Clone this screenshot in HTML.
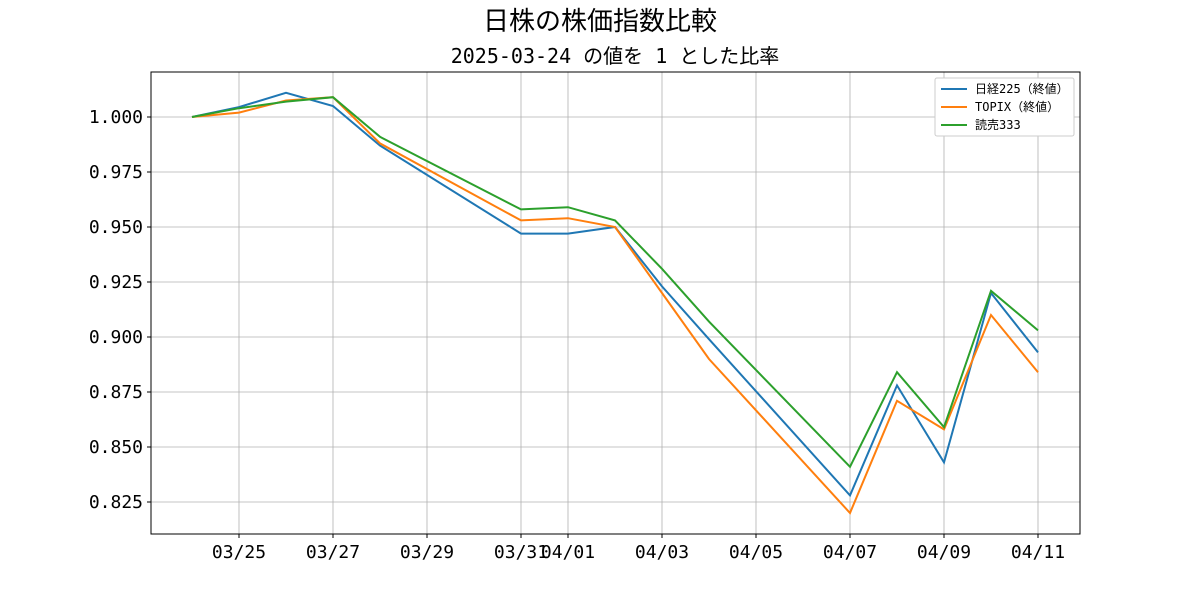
<!DOCTYPE html>
<html><head><meta charset="utf-8"><style>
body{margin:0;background:#fff;}
svg text{font-family:"DejaVu Sans Mono","Liberation Mono","Noto Sans CJK JP",monospace;}
</style></head><body>
<svg id="chart" width="1200" height="600" xmlns="http://www.w3.org/2000/svg">
<rect width="1200" height="600" fill="#fff"/>
<text x="600" y="30" text-anchor="middle" font-size="26" fill="#000">日株の株価指数比較</text>
<text x="615" y="63" text-anchor="middle" font-size="20" fill="#000">2025-03-24 の値を 1 とした比率</text>
<g id="grid"></g><g id="lines"></g><g id="axes"></g>
<rect x="151" y="72" width="929" height="462" fill="none" stroke="#000" stroke-width="1"/>
<g>
<rect x="935" y="78" width="139" height="58" fill="#fff" stroke="#ccc" rx="2"/>
<line x1="941" y1="89" x2="967" y2="89" stroke="#1f77b4" stroke-width="2"/>
<text x="975" y="93" font-size="12">日経225（終値）</text>
<line x1="941" y1="107" x2="967" y2="107" stroke="#ff7f0e" stroke-width="2"/>
<text x="975" y="111" font-size="12">TOPIX（終値）</text>
<line x1="941" y1="125" x2="967" y2="125" stroke="#2ca02c" stroke-width="2"/>
<text x="975" y="129" font-size="12">読売333</text>
</g>
</svg>
<script>
const dayOffsets=[0,1,2,3,4,7,8,9,10,11,14,15,16,17,18];
const nikkei=[1.000,1.0045,1.011,1.005,0.987,0.947,0.947,0.950,0.923,0.899,0.828,0.878,0.843,0.920,0.893];
const topix=[1.000,1.002,1.0075,1.009,0.988,0.953,0.954,0.950,0.920,0.890,0.820,0.871,0.858,0.910,0.884];
const yomiuri=[1.000,1.004,1.007,1.009,0.991,0.958,0.959,0.953,0.931,0.907,0.841,0.884,0.859,0.921,0.903];
const xTickDays=[1,3,5,7,8,10,12,14,16,18];
const xTickLabels=["03/25","03/27","03/29","03/31","04/01","04/03","04/05","04/07","04/09","04/11"];
const yTicks=[0.825,0.850,0.875,0.900,0.925,0.950,0.975,1.000];
const X=d=>192+d*47;
const Y=v=>117+(1-v)/0.025*55;
const NS="http://www.w3.org/2000/svg";
function mk(tag,parent,attrs){const e=document.createElementNS(NS,tag);for(const k in attrs)e.setAttribute(k,attrs[k]);parent.appendChild(e);return e;}
const grid=document.getElementById('grid'),axes=document.getElementById('axes'),lines=document.getElementById('lines');
xTickDays.forEach((d,i)=>{
  const g=mk('line',grid,{x1:X(d),x2:X(d),y1:72,y2:534,stroke:'#b0b0b0','stroke-width':0.8});
  
  
  mk('line',axes,{x1:X(d),x2:X(d),y1:534,y2:538,stroke:'#000'});
  const t=mk('text',axes,{x:X(d),y:558,'text-anchor':'middle','font-size':18});
  t.textContent=xTickLabels[i];
  
  
});
yTicks.forEach(v=>{
  const g=mk('line',grid,{x1:151,x2:1080,y1:Y(v),y2:Y(v),stroke:'#b0b0b0','stroke-width':0.8});
  
  
  mk('line',axes,{x1:147,x2:151,y1:Y(v),y2:Y(v),stroke:'#000'});
  const t=mk('text',axes,{x:143,y:Y(v)+6,'text-anchor':'end','font-size':18});
  t.textContent=v.toFixed(3);
  
  
});
[[nikkei,'#1f77b4','line-nikkei225'],[topix,'#ff7f0e','line-topix'],[yomiuri,'#2ca02c','line-yomiuri333']].forEach(([s,c,n])=>{
  const p=mk('polyline',lines,{points:s.map((v,i)=>X(dayOffsets[i])+','+Y(v)).join(' '),fill:'none',stroke:c,'stroke-width':2});
  
  
});
</script>
</body></html>
